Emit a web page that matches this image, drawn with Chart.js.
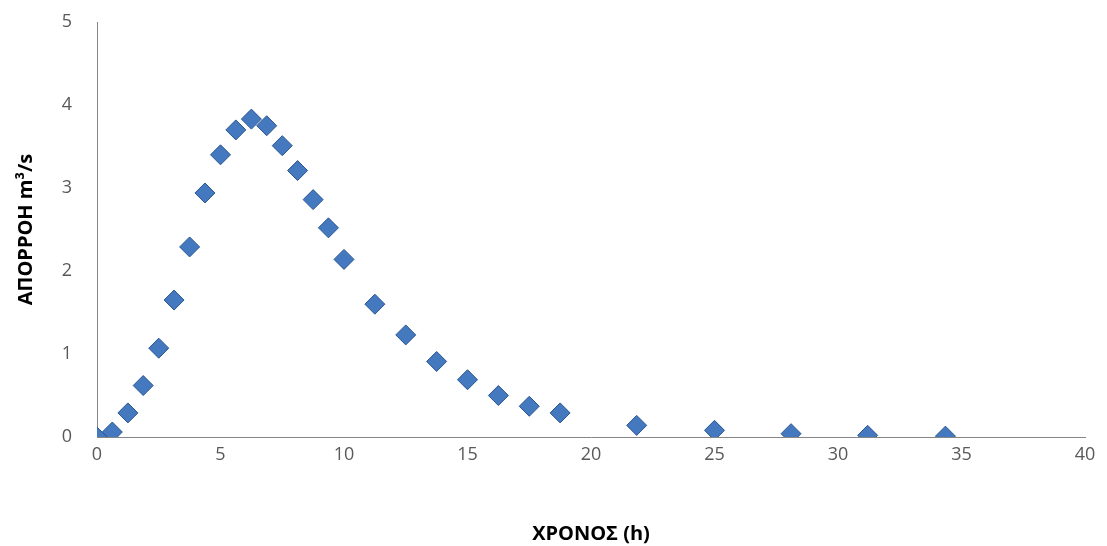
<!DOCTYPE html>
<html>
<head>
<meta charset="utf-8">
<script src="https://cdn.jsdelivr.net/npm/chart.js@4/dist/chart.umd.min.js"></script>
<style>
html,body{margin:0;padding:0;background:#fff;}
#wrap{width:1107px;height:546px;position:relative;}
</style>
</head>
<body>
<div id="wrap"><canvas id="c" width="1107" height="546"></canvas></div>
<script>
const timeHours = [0, 0.62, 1.25, 1.87, 2.5, 3.12, 3.75, 4.37, 5.0, 5.62, 6.25, 6.87, 7.5, 8.12, 8.75, 9.37, 10.0, 11.25, 12.5, 13.75, 15.0, 16.25, 17.5, 18.75, 21.85, 25.0, 28.1, 31.2, 34.35];
const runoff = [0.0, 0.06, 0.29, 0.62, 1.07, 1.65, 2.29, 2.94, 3.40, 3.70, 3.83, 3.75, 3.51, 3.21, 2.86, 2.52, 2.14, 1.60, 1.23, 0.91, 0.69, 0.50, 0.37, 0.29, 0.14, 0.08, 0.04, 0.02, 0.01];
const xTitle = 'ΧΡΟΝΟΣ (h)';
const yTitle = 'ΑΠΟΡΡΟΗ m³/s';

const points = timeHours.map((t, i) => ({x: t, y: runoff[i]}));
const fontFam = '"Open Sans", "Liberation Sans", sans-serif';

new Chart(document.getElementById('c'), {
  type: 'scatter',
  data: {
    datasets: [{
      data: points,
      pointStyle: 'rectRot',
      pointRadius: 10,
      pointHoverRadius: 10,
      backgroundColor: '#4479bf',
      borderColor: '#2a5590',
      borderWidth: 1
    }]
  },
  options: {
    responsive: false,
    animation: false,
    layout: {padding: {top: 22, right: 22, left: 0, bottom: 0}},
    plugins: {legend: {display: false}, tooltip: {enabled: false}},
    scales: {
      x: {
        type: 'linear', min: 0, max: 40,
        ticks: {stepSize: 5, color: '#595959', font: {family: fontFam, size: 18}, padding: 7},
        grid: {display: false, drawTicks: false},
        border: {color: '#868686', width: 1},
        title: {display: true, text: xTitle, color: '#000', font: {family: fontFam, size: 20, weight: 'bold'}, padding: {top: 0, bottom: 0}},
        afterFit: (s) => { s.height = 109; s.paddingLeft = 0; s.paddingRight = 0; }
      },
      y: {
        type: 'linear', min: 0, max: 5,
        ticks: {stepSize: 1, color: '#595959', font: {family: fontFam, size: 18}, padding: 25},
        grid: {display: false, drawTicks: false},
        border: {color: '#868686', width: 1},
        title: {display: true, text: yTitle, color: '#000', font: {family: fontFam, size: 20, weight: 'bold'}, padding: {top: 14, bottom: 0}},
        afterFit: (s) => { s.width = 97; s.paddingTop = 0; s.paddingBottom = 0; }
      }
    }
  }
});
</script>
</body>
</html>
